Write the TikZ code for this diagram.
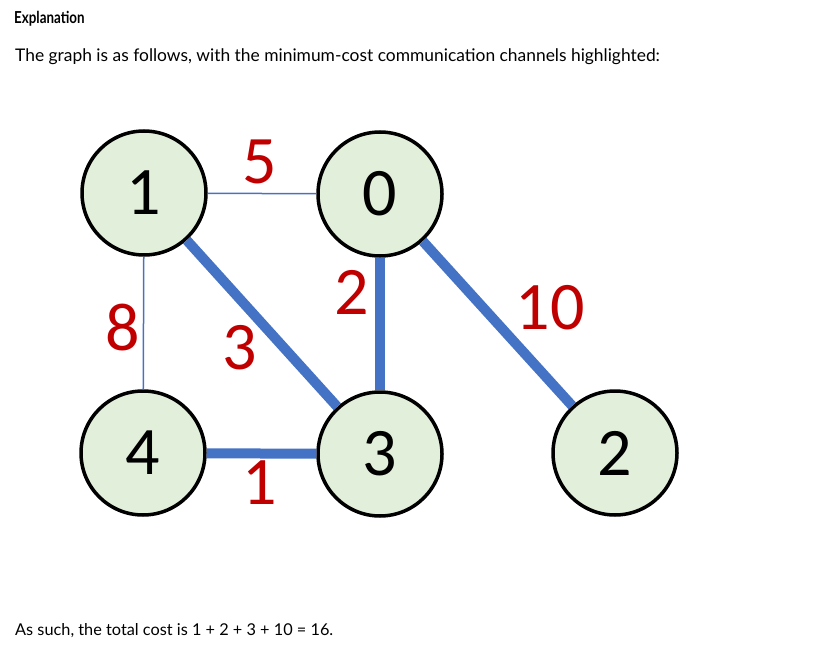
\documentclass[tikz,border=0pt]{standalone}
\usepackage{graphicx}
\usepackage{fontspec}
\setmainfont{Lato}
\newfontfamily\digitfont{Carlito}
\definecolor{edgeblue}{HTML}{4472C4}
\definecolor{nodefill}{HTML}{E2EFDA}
\definecolor{labred}{HTML}{C00000}
\begin{document}
\begin{tikzpicture}[x=1pt,y=-1pt,
  vert/.style={circle,draw=black,line width=3.5pt,fill=nodefill,minimum size=124pt,inner sep=0pt,font=\digitfont\fontsize{68}{68}\selectfont},
  thin/.style={draw=edgeblue,line width=1.5pt},
  thick/.style={draw=edgeblue,line width=10pt},
  wlab/.style={text=labred,inner sep=0pt,font=\digitfont\fontsize{68}{68}\selectfont},
  body/.style={anchor=base west,inner sep=0pt}]
\useasboundingbox (0,0) rectangle (813,647);
\node[body,font=\bfseries\fontsize{16.5}{19}\selectfont] (title) at (14,24) {\scalebox{0.81}[1]{Explanation}};
\node[body,font=\fontsize{17.4}{20}\selectfont] (intro) at (15,62) {The graph is as follows, with the minimum-cost communication channels highlighted:};
\node[body,font=\fontsize{16.3}{19}\selectfont] (concl) at (15,635) {As such, the total cost is 1 + 2 + 3 + 10 = 16.};
\node[vert] (n1) at (144,193) {1};
\node[vert] (n0) at (380,194) {0};
\node[vert] (n4) at (143,453) {4};
\node[vert] (n3) at (380,454) {3};
\node[vert] (n2) at (615,453) {2};
\draw[thin] (n1) -- (n0);
\draw[thin] (n1) -- (n4);
\draw[thick] (n1) -- (n3);
\draw[thick] (n0) -- (n3);
\draw[thick] (n4) -- (n3);
\draw[thick] (n0) -- (n2);
\node[wlab] (w5) at (260,162) {5};
\node[wlab] (w2) at (352,292) {2};
\node[wlab] (w8) at (123,328) {8};
\node[wlab] (w3) at (240,348) {3};
\node[wlab] (w1) at (260,483) {1};
\node[wlab] (w10) at (550,308) {10};
\end{tikzpicture}
\end{document}
